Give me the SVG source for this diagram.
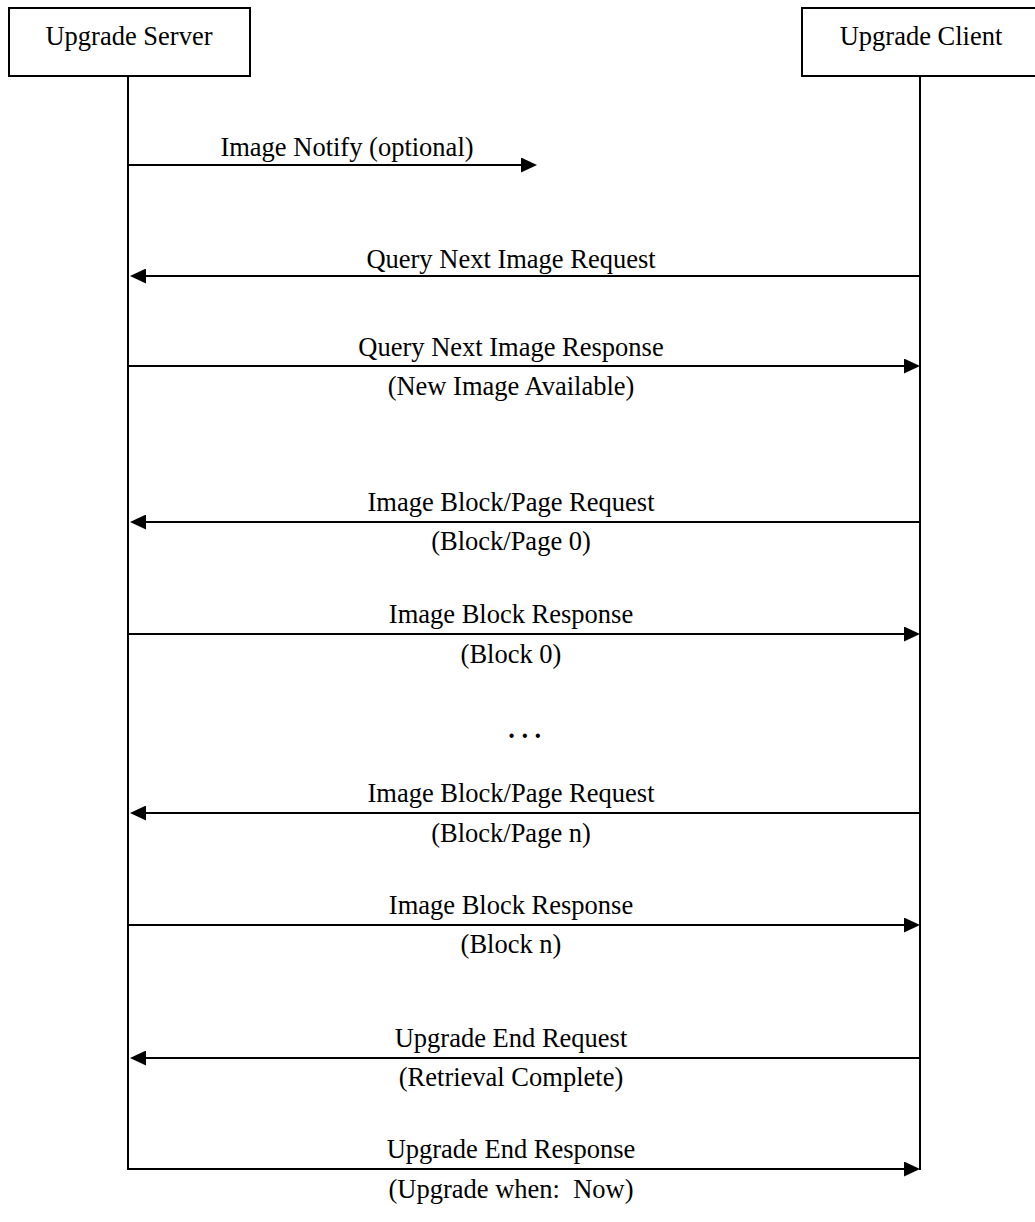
<svg xmlns="http://www.w3.org/2000/svg" width="1035" height="1222" viewBox="0 0 1035 1222">
<style>
text{font-family:"Liberation Serif","Times New Roman",serif;font-size:26.5px;fill:#000;text-anchor:middle;white-space:pre}
.box{fill:#fff;stroke:#000;stroke-width:2}
.life{stroke:#000;stroke-width:2;fill:none}
.msg{stroke:#000;stroke-width:2;fill:none;marker-end:url(#ah)}
</style>
<defs>
<marker id="ah" markerWidth="16" markerHeight="15" refX="7" refY="7.5" orient="auto" markerUnits="userSpaceOnUse">
<path d="M0,0 L16,7.5 L0,15 Z" fill="#000"/>
</marker>
</defs>
<rect width="1035" height="1222" fill="#fff"/>
<g id="server">
<rect class="box" x="9" y="8" width="241" height="68"/>
<text x="129" y="45">Upgrade Server</text>
</g>
<g id="client">
<rect class="box" x="802" y="8" width="241" height="68"/>
<text x="921" y="45">Upgrade Client</text>
</g>
<g id="connectors">
<path class="life" d="M128,76 V1170"/>
<path class="life" d="M920,76 V1170"/>
<path class="msg" d="M128,165 H528"/>
<path class="msg" d="M920,276 H139"/>
<path class="msg" d="M128,366 H911"/>
<path class="msg" d="M920,522 H139"/>
<path class="msg" d="M128,634 H911"/>
<path class="msg" d="M920,813 H139"/>
<path class="msg" d="M128,925 H911"/>
<path class="msg" d="M920,1058 H139"/>
<path class="msg" d="M128,1169 H911"/>
</g>
<g id="labels">
<text x="347" y="156">Image Notify (optional)</text>
<text x="511" y="268">Query Next Image Request</text>
<text x="511" y="356">Query Next Image Response</text>
<text x="511" y="395">(New Image Available)</text>
<text x="511" y="511">Image Block/Page Request</text>
<text x="511" y="550">(Block/Page 0)</text>
<text x="511" y="623">Image Block Response</text>
<text x="511" y="663">(Block 0)</text>
<text x="528" y="738" letter-spacing="6.6" font-weight="bold">...</text>
<text x="511" y="802">Image Block/Page Request</text>
<text x="511" y="842">(Block/Page n)</text>
<text x="511" y="914">Image Block Response</text>
<text x="511" y="953">(Block n)</text>
<text x="511" y="1047">Upgrade End Request</text>
<text x="511" y="1086">(Retrieval Complete)</text>
<text x="511" y="1158">Upgrade End Response</text>
<text x="511" y="1198">(Upgrade when:  Now)</text>
</g>
</svg>
